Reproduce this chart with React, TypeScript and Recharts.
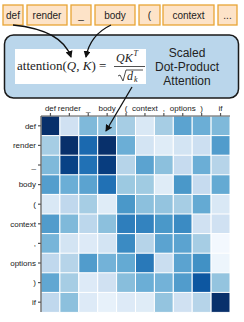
import { BarChart, Bar, Cell, XAxis, YAxis } from 'recharts'

const tokens = ['def', 'render', '_', 'body', '(', 'context', ',', 'options', ')', 'if']
const topTokens = ['def', 'render', '_', 'body', '(', 'context', '...']

const rowDef = [1.0, 0.2, 0.45, 0.4, 0.35, 0.15, 0.35, 0.55, 0.5, 0.45]
const rowRender = [0.35, 1.0, 0.78, 1.0, 0.5, 0.18, 0.12, 0.18, 0.22, 0.58]
const rowUnderscore = [0.45, 0.93, 0.75, 0.95, 0.3, 0.55, 0.42, 0.25, 0.5, 0.3]
const rowBody = [0.57, 0.5, 0.55, 0.75, 0.38, 0.37, 0.12, 0.6, 0.25, 0.52]
const rowParen = [0.15, 0.27, 0.35, 0.12, 0.6, 0.42, 0.4, 0.35, 0.52, 0.15]
const rowContext = [0.58, 0.45, 0.28, 0.42, 0.7, 0.68, 0.6, 0.65, 0.2, 0.2]
const rowComma = [0.47, 0.18, 0.13, 0.18, 0.65, 0.3, 0.55, 0.55, 0.35, 0.02]
const rowOptions = [0.27, 0.3, 0.58, 0.48, 0.52, 0.72, 0.23, 0.55, 0.63, 0.05]
const rowClose = [0.53, 0.35, 0.13, 0.2, 0.43, 0.5, 0.48, 0.58, 0.85, 0.4]
const rowIf = [0.27, 0.42, 0.13, 0.08, 0.13, 0.12, 0.4, 0.2, 0.3, 1.0]

const weights = [rowDef, rowRender, rowUnderscore, rowBody, rowParen, rowContext, rowComma, rowOptions, rowClose, rowIf]

// matplotlib "Blues"
const BLUES = ['#f7fbff', '#deebf7', '#c6dbef', '#9ecae1', '#6baed6', '#4292c6', '#2171b5', '#08519c', '#08306b']
function blues(v: number) {
  const t = Math.max(0, Math.min(1, v)) * (BLUES.length - 1)
  const i = Math.min(BLUES.length - 2, Math.floor(t))
  const f = t - i
  const a = BLUES[i], b = BLUES[i + 1]
  const ch = (h: string, k: number) => parseInt(h.slice(1 + k * 2, 3 + k * 2), 16)
  const mix = [0, 1, 2].map(k => Math.round(ch(a, k) + (ch(b, k) - ch(a, k)) * f))
  return `rgb(${mix.join(',')})`
}

const cols = tokens.map((_, j) => `c${j}`)
const rows = tokens.map(t => {
  const r: Record<string, string | number> = { row: t }
  cols.forEach(c => (r[c] = 1))
  return r
})

const tickStyle = { fontSize: 8, fontFamily: 'Liberation Sans, Arial, sans-serif', fill: '#222' }
const boxX = [[3, 23], [27, 67], [71, 91], [95, 135], [139, 160], [163, 214], [218, 237]]

function Diagram() {
  const serif = 'Liberation Serif, Times New Roman, serif'
  const sans = 'Liberation Sans, Arial, sans-serif'
  return (
    <svg width={244} height={322} style={{ position: 'absolute', left: 0, top: 0, pointerEvents: 'none' }}>
      <defs>
        <marker id="ah" markerWidth={7} markerHeight={7} refX={6} refY={3.5} orient="auto" markerUnits="userSpaceOnUse">
          <path d="M0,0 L7,3.5 L0,7 Z" fill="#111" />
        </marker>
      </defs>
      {topTokens.map((t, i) => (
        <g key={t}>
          <rect x={boxX[i][0]} y={5} width={boxX[i][1] - boxX[i][0]} height={20} fill="#fde3c8" stroke="#e8a535" strokeWidth={1.3} />
          <text x={(boxX[i][0] + boxX[i][1]) / 2} y={19} textAnchor="middle" fontSize={10} fontFamily={sans} fill="#222">{t}</text>
        </g>
      ))}
      <rect x={4.5} y={35} width={234} height={63} rx={9} fill="#bad6eb" stroke="#1a1a1a" strokeWidth={1.5} />
      <rect x={15} y={49} width={131} height={35} fill="#fff" />
      <text x={17} y={70} fontSize={13} fontFamily={serif} fill="#222">
        attention(<tspan fontStyle="italic">Q</tspan>, <tspan fontStyle="italic">K</tspan>) =
      </text>
      <text x={116} y={62} fontSize={12} fontFamily={serif} fontStyle="italic" fill="#222">QK</text>
      <text x={133.5} y={56} fontSize={8} fontFamily={serif} fontStyle="italic" fill="#222">T</text>
      <line x1={114} y1={66.5} x2={145} y2={66.5} stroke="#222" strokeWidth={0.8} />
      <path d="M118,76 L120,75 L123,81 L126,70 L143,70" fill="none" stroke="#222" strokeWidth={0.8} />
      <text x={127} y={80} fontSize={12} fontFamily={serif} fontStyle="italic" fill="#222">d</text>
      <text x={134} y={82} fontSize={8} fontFamily={serif} fontStyle="italic" fill="#222">k</text>
      <text x={187} y={57} textAnchor="middle" fontSize={12} fontFamily={sans} fill="#222">Scaled</text>
      <text x={187} y={71} textAnchor="middle" fontSize={12} fontFamily={sans} fill="#222">Dot-Product</text>
      <text x={187} y={85} textAnchor="middle" fontSize={12} fontFamily={sans} fill="#222">Attention</text>
      <path d="M13,25 Q62,30 71,57" fill="none" stroke="#111" strokeWidth={1.3} markerEnd="url(#ah)" />
      <path d="M111,25 Q90,35 86,57" fill="none" stroke="#111" strokeWidth={1.3} markerEnd="url(#ah)" />
      <path d="M132,87 L106,131" fill="none" stroke="#111" strokeWidth={1.3} markerEnd="url(#ah)" />
    </svg>
  )
}

export default function App() {
  return (
    <div style={{ position: 'absolute', left: 0, top: 0, width: 244, height: 322, background: '#fff' }}>
      <BarChart
        width={244}
        height={322}
        data={rows}
        layout="vertical"
        barCategoryGap={0}
        margin={{ top: 102, right: 14, bottom: 10, left: 0 }}
      >
        {cols.map((c, j) => (
          <Bar key={c} dataKey={c} stackId="a" isAnimationActive={false} stroke="#fff" strokeWidth={1}>
            {rows.map((_, i) => (
              <Cell key={i} fill={blues(weights[i][j])} />
            ))}
          </Bar>
        ))}
        <XAxis
          type="number"
          orientation="top"
          domain={[0, 10]}
          ticks={[0.5, 1.5, 2.5, 3.5, 4.5, 5.5, 6.5, 7.5, 8.5, 9.5]}
          tickFormatter={(v: number) => tokens[Math.floor(v)]}
          interval={0}
          height={14}
          tickSize={3}
          tickMargin={2}
          tick={tickStyle}
          stroke="#555"
          strokeWidth={1.2}
          allowDataOverflow
        />
        <XAxis xAxisId="b" type="number" orientation="bottom" domain={[0, 10]} height={0} tick={false} tickLine={false} stroke="#555" strokeWidth={1.2} />
        <YAxis type="category" dataKey="row" width={41} tickSize={3} tickMargin={2} tick={tickStyle} interval={0} stroke="#555" strokeWidth={1.2} />
        <YAxis yAxisId="r" type="category" dataKey="row" orientation="right" width={0} tick={false} tickLine={false} stroke="#555" strokeWidth={1.2} />
      </BarChart>
      <Diagram />
    </div>
  )
}
